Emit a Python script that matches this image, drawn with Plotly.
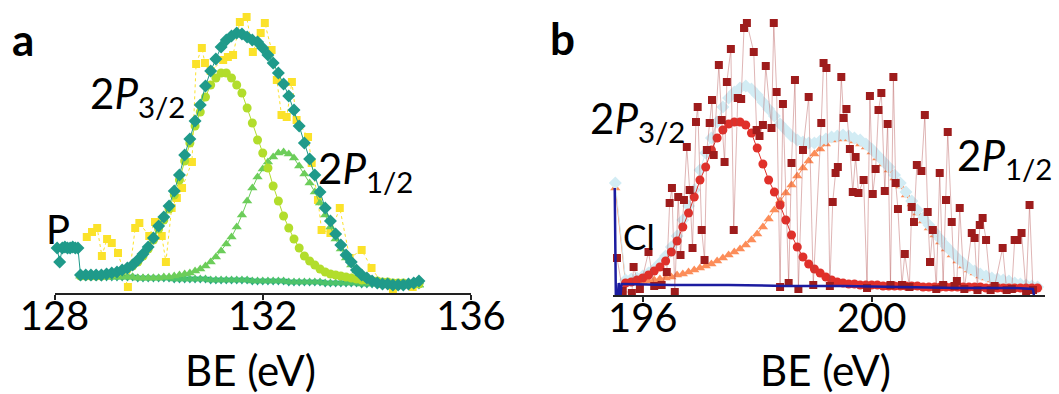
import plotly.graph_objects as go

W, H = 1059, 394
FONT = "Lato"

# ---------------- panel a : P 2p region ----------------
# measured spectrum
be_raw_a = [128.62, 128.72, 128.82, 128.91, 129.01, 129.10, 129.22, 129.41, 129.55, 129.63,
            129.82, 129.93, 130.06, 130.14, 130.25, 130.35, 130.45, 130.64, 130.72, 130.83,
            130.89, 131.00, 131.24, 131.33, 131.43, 131.56, 131.69, 131.81, 131.96, 132.04,
            132.17, 132.27, 132.36, 132.46, 132.56, 132.65, 132.87, 132.94, 133.06, 133.13,
            133.30, 133.48, 133.67, 133.90, 134.09, 134.30, 134.50, 134.88]
int_raw_a = [56, 61, 65, 37, 54, 50, 40, 6, 65, 70,
             57, 71, 57, 31, 85, 95, 105, 131, 229, 245,
             230, 222, 233, 236, 238, 271, 276, 241, 260, 270,
             243, 213, 178, 176, 211, 173, 156, 130, 93, 63,
             60, 85, 35, 43, 25, 9, 3, 6]

# fitted curves, sampled every 0.1 eV
be_fit_a = [128.5, 128.6, 128.7, 128.8, 128.9, 129.0, 129.1, 129.2, 129.3, 129.4,
            129.5, 129.6, 129.7, 129.8, 129.9, 130.0, 130.1, 130.2, 130.3, 130.4,
            130.5, 130.6, 130.7, 130.8, 130.9, 131.0, 131.1, 131.2, 131.3, 131.4,
            131.5, 131.6, 131.7, 131.8, 131.9, 132.0, 132.1, 132.2, 132.3, 132.4,
            132.5, 132.6, 132.7, 132.8, 132.9, 133.0, 133.1, 133.2, 133.3, 133.4,
            133.5, 133.6, 133.7, 133.8, 133.9, 134.0, 134.1, 134.2, 134.3, 134.4,
            134.5, 134.6, 134.7, 134.8, 134.9, 135.0]
env_a = [18, 18, 18, 18, 18, 19, 20, 21, 23, 25,
         28, 33, 39, 46, 55, 67, 76, 87, 102, 118,
         138, 154, 172, 188, 207, 222, 234, 246, 253, 257,
         260, 259, 256, 253, 251, 245, 238, 230, 220, 209,
         197, 183, 167, 150, 134, 118, 101, 85, 72, 59,
         48, 38, 31, 23, 18, 15, 12, 10, 9, 9,
         8, 8, 8, 9, 10, 12]
p32_a = [17, 17, 17, 17, 17, 18, 19, 20, 22, 24,
         27, 31, 37, 44, 53, 64, 73, 84, 98, 113,
         132, 150, 167, 181, 196, 208, 215, 220, 220, 215,
         208, 200, 185, 170, 153, 140, 125, 107, 92, 77,
         65, 54, 45, 37, 32, 28, 24, 21, 19, 18,
         17, 16, 15, 14, 13, 13, 12, 12, 11, 11,
         10, 10, 10, 9, 9, 9]
p12_a = [17, 17, 17, 17, 16, 16, 16, 16, 16, 16,
         16, 15, 15, 15, 15, 15, 16, 16, 17, 18,
         19, 20, 22, 24, 27, 31, 36, 42, 49, 56,
         66, 78, 92, 105, 116, 124, 131, 136, 140, 141,
         139, 135, 127, 119, 110, 101, 90, 78, 66, 54,
         44, 35, 28, 22, 18, 15, 13, 12, 11, 10,
         10, 9, 9, 9, 8, 8]
bg_a = [17, 17, 17, 17, 16, 16, 16, 16, 16, 16,
        16, 15, 15, 15, 15, 15, 15, 15, 14, 14,
        14, 14, 14, 14, 14, 13, 13, 13, 13, 13,
        13, 13, 13, 12, 12, 12, 12, 12, 12, 12,
        11, 11, 11, 11, 11, 11, 11, 10, 10, 10,
        10, 10, 10, 10, 9, 9, 9, 9, 9, 9,
        9, 9, 8, 8, 8, 8]
# low-energy edge of the envelope (elemental P shoulder)
be_edge_a = [128.05, 128.10, 128.15, 128.20, 128.25, 128.30, 128.35, 128.40, 128.45]
env_edge_a = [45, 31, 45, 46, 45, 45, 46, 45, 45]

# ---------------- panel b : Cl 2p region ----------------
be_raw_b = [195.55, 195.65, 195.81, 195.84, 195.95, 196.10, 196.20, 196.33, 196.42, 196.47,
            196.51, 196.56, 196.62, 196.66, 196.72, 196.77, 196.82, 196.87, 196.93, 196.96,
            197.03, 197.08, 197.12, 197.17, 197.21, 197.24, 197.33, 197.38, 197.43, 197.47,
            197.54, 197.59, 197.66, 197.72, 197.77, 197.82, 197.94, 197.99, 198.04, 198.10,
            198.15, 198.25, 198.29, 198.34, 198.40, 198.45, 198.55, 198.60, 198.66, 198.72,
            198.80, 198.90, 198.98, 199.12, 199.16, 199.21, 199.27, 199.32, 199.37, 199.41,
            199.47, 199.51, 199.56, 199.62, 199.67, 199.72, 199.77, 199.86, 199.92, 199.97,
            200.02, 200.07, 200.12, 200.17, 200.23, 200.28, 200.33, 200.38, 200.42, 200.46,
            200.53, 200.58, 200.66, 200.70, 200.74, 200.79, 200.87, 200.93, 200.98, 201.02,
            201.07, 201.13, 201.19, 201.25, 201.30, 201.33, 201.40, 201.45, 201.49, 201.54,
            201.62, 201.75, 201.80, 201.85, 201.89, 201.94, 202.00, 202.08, 202.15, 202.29,
            202.36, 202.45, 202.50, 202.55, 202.62, 202.70, 202.76, 202.82]
int_raw_b = [37, 4, 2, 28, 6, 43, 9, 10, 23, 92,
             107, 3, 98, 40, 95, 148, 105, 47, 173, 188,
             65, 35, 145, 172, 195, 140, 230, 175, 133, 213,
             246, 65, 197, 196, 267, 272, 243, 165, 159, 170,
             229, 167, 272, 203, 8, 191, 12, 132, 215, 6,
             145, 198, 10, 172, 232, 227, 9, 93, 122, 128,
             218, 177, 186, 146, 103, 138, 102, 115, 7, 199,
             101, 126, 185, 202, 104, 171, 10, 218, 112, 86,
             10, 41, 8, 88, 73, 130, 124, 180, 83, 33,
             65, 6, 122, 10, 95, 163, 73, 9, 14, 87,
             6, 62, 57, 5, 70, 77, 55, 5, 9, 47,
             5, 6, 55, 55, 62, 3, 90, 5]

be_fit_b = [195.7, 195.8, 195.9, 196.0, 196.1, 196.2, 196.3, 196.4, 196.5, 196.6,
            196.7, 196.8, 196.9, 197.0, 197.1, 197.2, 197.3, 197.4, 197.5, 197.6,
            197.7, 197.8, 197.9, 198.0, 198.1, 198.2, 198.3, 198.4, 198.5, 198.6,
            198.7, 198.8, 198.9, 199.0, 199.1, 199.2, 199.3, 199.4, 199.5, 199.6,
            199.7, 199.8, 199.9, 200.0, 200.1, 200.2, 200.3, 200.4, 200.5, 200.6,
            200.7, 200.8, 200.9, 201.0, 201.1, 201.2, 201.3, 201.4, 201.5, 201.6,
            201.7, 201.8, 201.9, 202.0, 202.1, 202.2, 202.3, 202.4, 202.5, 202.6,
            202.7, 202.8, 202.9]
env_b = [15, 16, 17, 19, 22, 26, 32, 39, 48, 59,
         75, 89, 105, 125, 142, 157, 173, 188, 197, 203,
         207, 209, 206, 200, 193, 186, 179, 171, 165, 159,
         155, 153, 152, 152, 154, 156, 158, 159, 160, 159,
         157, 155, 151, 146, 140, 134, 128, 120, 112, 103,
         94, 85, 77, 70, 63, 56, 49, 43, 37, 32,
         27, 24, 21, 19, 17, 16, 15, 14, 12, 11,
         10, 9, 8]
p32_b = [12, 13, 15, 17, 20, 24, 28, 34, 43, 54,
         68, 82, 98, 115, 128, 145, 157, 165, 171, 173,
         173, 170, 162, 147, 131, 115, 103, 90, 75, 60,
         48, 38, 31, 26, 22, 18, 15, 13, 12, 11,
         11, 10, 10, 10, 10, 9, 9, 9, 9, 9,
         9, 9, 8, 8, 8, 8, 8, 8, 8, 8,
         8, 8, 8, 7, 7, 7, 7, 7, 7, 7,
         7, 7, 7]
p12_b = [12, 12, 13, 13, 14, 15, 16, 17, 18, 20,
         21, 23, 25, 27, 29, 31, 34, 37, 40, 43,
         46, 50, 55, 61, 68, 76, 85, 94, 102, 110,
         119, 127, 134, 141, 146, 151, 155, 156, 157, 156,
         154, 151, 148, 143, 137, 131, 125, 117, 109, 100,
         91, 82, 74, 67, 60, 53, 46, 40, 34, 29,
         25, 22, 19, 17, 15, 14, 13, 12, 11, 10,
         9, 8, 8]
# first channel of the fitted window
be_edge_b = [195.52]
env_edge_b = [112]
p12_edge_b = [107]
# Shirley-type background
be_bg_b = [195.51, 195.53, 195.56, 195.58, 195.61, 195.63, 195.66, 196.5, 197.5, 198.5,
           199.5, 200.5, 201.5, 202.5, 202.82, 202.84]
bg_b = [107, -3, -3, 12, -2, 11, 11, 10, 10, 9,
        9, 8, 7, 7, 6, -2]

fig = go.Figure()

def add(x, y, color, symbol, size, xa, ya, line_color=None, dash="solid", lw=1, mode="lines+markers"):
    fig.add_trace(go.Scatter(
        x=x, y=y, mode=mode, xaxis=xa, yaxis=ya, cliponaxis=False, showlegend=False,
        marker=dict(symbol=symbol, size=size, color=color, line=dict(width=0)),
        line=dict(color=line_color or color, width=lw, dash=dash),
    ))

# panel a traces
add(be_raw_a, int_raw_a, "#FBE22A", "square", 8, "x", "y", dash="dot")
add(be_fit_a, bg_a, "#25A585", "triangle-down", 9, "x", "y")
add(be_fit_a, bg_a, "#4DC36B", "triangle-up", 9, "x", "y")
add(be_fit_a, p12_a, "#6CCD5A", "triangle-up", 9, "x", "y")
add(be_fit_a, p32_a, "#B2DD2C", "circle", 9, "x", "y")
add(be_edge_a + be_fit_a, env_edge_a + env_a, "#1F9A8A", "diamond", 10, "x", "y")

# panel b traces
add(be_edge_b + be_fit_b, p12_edge_b + p12_b, "#FC8D59", "triangle-up", 9, "x2", "y2")
add(be_edge_b + be_fit_b, env_edge_b + env_b, "#D2ECF4", "diamond", 10, "x2", "y2")
add(be_fit_b, p32_b, "#E0302A", "circle", 9, "x2", "y2")
add(be_raw_b, int_raw_b, "#9E1C1C", "square", 8, "x2", "y2", line_color="rgba(175,70,70,0.4)")
add(be_bg_b, bg_b, "#1C1CA0", "circle", 1, "x2", "y2", lw=2.5, mode="lines")

axis_common = dict(
    showline=True, linecolor="#222222", linewidth=1.5, ticks="outside", ticklen=5,
    tickwidth=1.5, tickcolor="#222222", showgrid=False, zeroline=False, automargin=False,
    ticklabelstandoff=-18,
    tickfont=dict(family=FONT, size=40, color="black"),
)

fig.update_layout(
    width=W, height=H, margin=dict(l=0, r=0, t=0, b=0, autoexpand=False),
    paper_bgcolor="white", plot_bgcolor="white", showlegend=False,
    xaxis=dict(domain=[54.5 / W, 471 / W], range=[128, 136], tickvals=[128, 132, 136],
               anchor="y", **axis_common),
    yaxis=dict(domain=[1 - 293 / H, 1], range=[0, 293], visible=False, automargin=False),
    xaxis2=dict(domain=[613 / W, 1045 / W], range=[195.48, 203.03], tickvals=[196, 200],
                anchor="y2", **axis_common),
    yaxis2=dict(domain=[1 - 295 / H, 1], range=[0, 295], visible=False, automargin=False),
)

def label(text, x, y, size, xanchor="left", bold=False):
    fig.add_annotation(
        text=f"<b>{text}</b>" if bold else text, x=x / W, y=1 - y / H, xref="paper", yref="paper",
        xanchor=xanchor, yanchor="middle", showarrow=False,
        font=dict(family=FONT, size=size, color="black"),
    )

label("a", 10, 39, 44, bold=True)
label("b", 548, 38, 44, bold=True)
label("2<i>P</i><sub>3/2</sub>", 88, 96, 42)
label("2<i>P</i><sub>1/2</sub>", 316, 171, 42)
label("P", 44, 229, 40)
label("2<i>P</i><sub>3/2</sub>", 588, 121, 42)
label("2<i>P</i><sub>1/2</sub>", 955, 158, 42)
label("Cl", 621, 236, 35)
label("BE (eV)", 250, 370, 42, xanchor="center")
label("BE (eV)", 825, 370, 42, xanchor="center")

fig.write_html("out.html")
